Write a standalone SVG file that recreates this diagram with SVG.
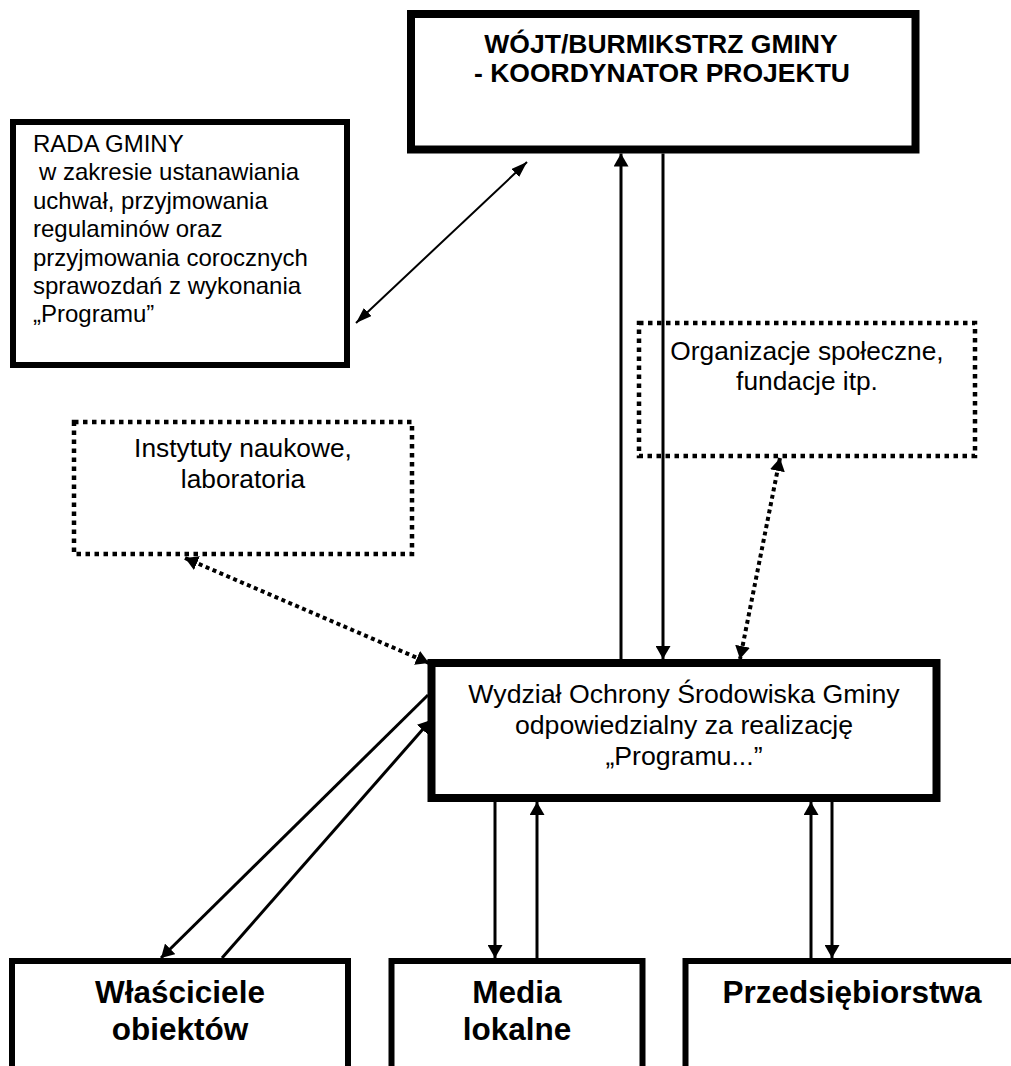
<svg xmlns="http://www.w3.org/2000/svg" width="1011" height="1066" viewBox="0 0 1011 1066">
<style>
.bg{fill:#fff}
.box{fill:#fff;stroke:#000}
.dot{fill:#fff;stroke:#000;stroke-width:4.5;stroke-dasharray:4.5 4.5}
.t{font-family:"Liberation Sans",Arial,sans-serif;fill:#000}
.n{font-size:26.3px;text-anchor:middle}
.b{font-weight:bold;text-anchor:middle}
.c{fill:none;stroke:#000;stroke-width:3}
.cd{fill:none;stroke:#000;stroke-width:4;stroke-dasharray:4 3.5}
</style>
<defs>
<marker id="ah" viewBox="0 0 13 15" refX="13" refY="7.5" markerWidth="13" markerHeight="15" markerUnits="userSpaceOnUse" orient="auto-start-reverse">
<path d="M0,0 L13,7.5 L0,15 z" fill="#000"/>
</marker>
<marker id="ahs" viewBox="0 0 16 11" refX="16" refY="5.5" markerWidth="16" markerHeight="11" markerUnits="userSpaceOnUse" orient="auto-start-reverse">
<path d="M0,0 L16,5.5 L0,11 z" fill="#000"/>
</marker>
</defs>
<rect class="bg" x="0" y="0" width="1011" height="1066"/>

<g id="wojt">
<rect class="box" x="411" y="14" width="504.5" height="135.5" stroke-width="8"/>
<text class="t b" font-size="26.5" x="661" y="53">WÓJT/BURMIKSTRZ GMINY</text>
<text class="t b" font-size="26.5" x="662" y="82">- KOORDYNATOR PROJEKTU</text>
</g>

<g id="rada">
<rect class="box" x="13" y="122" width="334" height="243" stroke-width="6"/>
<text class="t" font-size="24">
<tspan x="33" y="152">RADA GMINY</tspan>
<tspan x="39" y="180.4">w zakresie ustanawiania</tspan>
<tspan x="33" y="208.8">uchwał, przyjmowania</tspan>
<tspan x="33" y="237.2">regulaminów oraz</tspan>
<tspan x="33" y="265.6">przyjmowania corocznych</tspan>
<tspan x="33" y="294">sprawozdań z wykonania</tspan>
<tspan x="33" y="322.4">„Programu”</tspan>
</text>
</g>

<g id="organizacje">
<rect class="dot" x="639" y="323" width="336" height="133"/>
<text class="t n" x="807" y="360">Organizacje społeczne,</text>
<text class="t n" x="807" y="390">fundacje itp.</text>
</g>

<g id="instytuty">
<rect class="dot" x="74" y="422" width="338" height="132"/>
<text class="t n" x="243" y="457">Instytuty naukowe,</text>
<text class="t n" x="243" y="488">laboratoria</text>
</g>

<g id="wydzial">
<rect class="box" x="431.5" y="663" width="505" height="135" stroke-width="8"/>
<text class="t n" style="font-size:26.7px" x="684" y="703">Wydział Ochrony Środowiska Gminy</text>
<text class="t n" style="font-size:26.7px" x="684" y="734">odpowiedzialny za realizację</text>
<text class="t n" style="font-size:26.7px" x="684" y="765">„Programu...”</text>
</g>

<g id="wlasciciele">
<rect class="box" x="12" y="961" width="336" height="130" stroke-width="6"/>
<text class="t b" font-size="31.5" x="180" y="1003">Właściciele</text>
<text class="t b" font-size="31.5" x="180" y="1040">obiektów</text>
</g>

<g id="media">
<rect class="box" x="391.5" y="961" width="251" height="130" stroke-width="6"/>
<text class="t b" font-size="31.5" x="517" y="1003">Media</text>
<text class="t b" font-size="31.5" x="517" y="1040">lokalne</text>
</g>

<g id="przedsiebiorstwa">
<rect class="box" x="685.5" y="961" width="340" height="130" stroke-width="6"/>
<text class="t b" font-size="31.5" x="852" y="1003">Przedsiębiorstwa</text>
</g>

<g id="connectors">
<line x1="356" y1="323" x2="527" y2="162" fill="none" stroke="#000" stroke-width="2" marker-start="url(#ahs)" marker-end="url(#ahs)"/>
<line class="c" x1="621" y1="659" x2="621" y2="153.5" marker-end="url(#ah)"/>
<line class="c" x1="663" y1="153.5" x2="663" y2="659" marker-end="url(#ah)"/>
<line class="cd" x1="780" y1="458" x2="740" y2="659" marker-start="url(#ah)" marker-end="url(#ah)"/>
<line class="cd" x1="185" y1="558" x2="429" y2="663" marker-start="url(#ah)" marker-end="url(#ah)"/>
<line class="c" x1="428" y1="695" x2="161" y2="958" marker-end="url(#ah)"/>
<line class="c" x1="222" y1="958" x2="431" y2="720" marker-end="url(#ah)"/>
<line class="c" x1="495" y1="802" x2="495" y2="958" marker-end="url(#ah)"/>
<line class="c" x1="537" y1="958" x2="537" y2="802" marker-end="url(#ah)"/>
<line class="c" x1="811" y1="958" x2="811" y2="802" marker-end="url(#ah)"/>
<line class="c" x1="832" y1="802" x2="832" y2="958" marker-end="url(#ah)"/>
</g>
</svg>
